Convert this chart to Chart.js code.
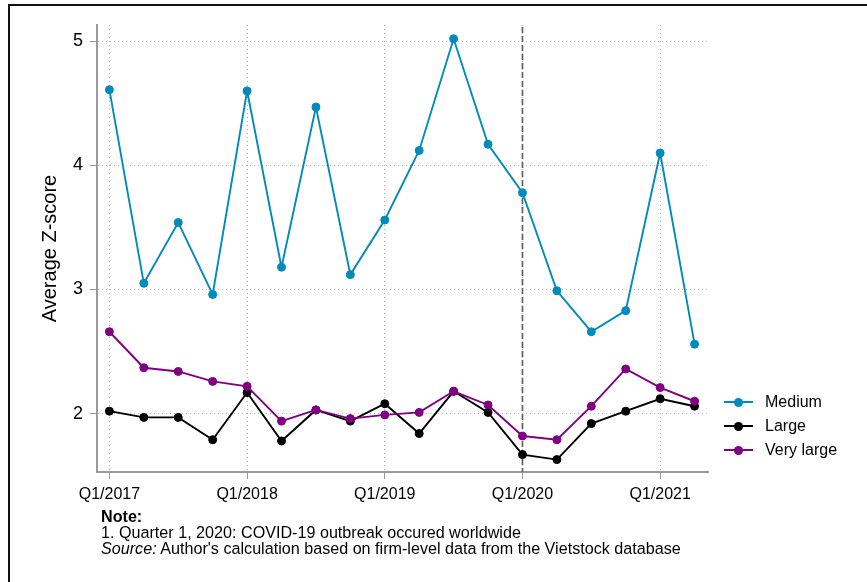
<!DOCTYPE html>
<html>
<head>
<meta charset="utf-8">
<script src="https://cdn.jsdelivr.net/npm/chart.js@4.4.1/dist/chart.umd.min.js"></script>
<style>
  html, body { margin: 0; padding: 0; background: #fff; }
  #wrap { position: relative; width: 867px; height: 582px; overflow: hidden;
          font-family: "Liberation Sans", Arial, sans-serif; color: #000; }
  #frame { position: absolute; left: 8px; top: 4px; width: 1000px; height: 1000px;
           border-left: 2px solid #111; border-top: 2px solid #111; }
  canvas { position: absolute; left: 0; top: 0; }
  #legend { position: absolute; left: 724px; top: 390px; }
  .item { position: relative; height: 24px; width: 140px; }
  .item .ln { position: absolute; left: 0; top: 11px; width: 29px; height: 2px; }
  .item .dot { position: absolute; left: 10px; top: 7.5px; width: 9px; height: 9px; border-radius: 50%; }
  .item .txt { position: absolute; left: 41px; top: 0; font-size: 16px; line-height: 24px; white-space: nowrap; }
  #notes { position: absolute; left: 101px; top: 509px; font-size: 16.15px; line-height: 15.8px; white-space: nowrap; }
</style>
</head>
<body>
<div id="wrap">
  <div id="frame"></div>
  <canvas id="chart" width="867" height="582"></canvas>
  <div id="legend"></div>
  <div id="notes">
    <div><b>Note:</b></div>
    <div>1. Quarter 1, 2020: COVID-19 outbreak occured worldwide</div>
    <div><i>Source:</i> Author's calculation based on firm-level data from the Vietstock database</div>
  </div>
</div>
<script>
// Quarters on the horizontal axis
const quarters = [
  'Q1/2017','Q2/2017','Q3/2017','Q4/2017',
  'Q1/2018','Q2/2018','Q3/2018','Q4/2018',
  'Q1/2019','Q2/2019','Q3/2019','Q4/2019',
  'Q1/2020','Q2/2020','Q3/2020','Q4/2020',
  'Q1/2021','Q2/2021'
];
// Labelled quarters and value-axis ticks
const tickQuarters = ['Q1/2017','Q1/2018','Q1/2019','Q1/2020','Q1/2021'];
const yTicks = [2, 3, 4, 5];
// Quarter marked by the dashed reference line
const eventQuarter = 'Q1/2020';

// Average Z-score by firm size group
const medium    = [4.61,3.05,3.54,2.96,4.60,3.18,4.47,3.12,3.56,4.12,5.02,4.17,3.78,2.99,2.66,2.83,4.10,2.56];
const large     = [2.02,1.97,1.97,1.79,2.17,1.78,2.03,1.94,2.08,1.84,2.18,2.01,1.67,1.63,1.92,2.02,2.12,2.06];
const veryLarge = [2.66,2.37,2.34,2.26,2.22,1.94,2.03,1.96,1.99,2.01,2.18,2.07,1.82,1.79,2.06,2.36,2.21,2.10];

const FONT = '"Liberation Sans", Arial, sans-serif';
const toPoints = arr => arr.map((v, i) => ({ x: i, y: v }));

function series(label, values, color, order) {
  return {
    label, data: toPoints(values), order,
    borderColor: color, backgroundColor: color,
    borderWidth: 1.9, pointRadius: 4, pointBorderWidth: 1,
    pointBackgroundColor: color, pointBorderColor: color,
    tension: 0, fill: false
  };
}

const datasets = [
  series('Medium', medium, '#008bbc', 2),
  series('Large', large, '#000000', 1),
  series('Very large', veryLarge, '#800080', 0)
];

// Dashed vertical marker at the event quarter
const eventLine = {
  id: 'eventLine',
  beforeDatasetsDraw(chart) {
    const { ctx, chartArea, scales } = chart;
    const x = scales.x.getPixelForValue(quarters.indexOf(eventQuarter));
    ctx.save();
    ctx.strokeStyle = '#626262';
    ctx.lineWidth = 1.7;
    ctx.setLineDash([6, 3]);
    ctx.beginPath();
    ctx.moveTo(x, chartArea.top + 2);
    ctx.lineTo(x, chartArea.bottom);
    ctx.stroke();
    ctx.restore();
  }
};

const gridOpts = {
  color: '#b8b8b8', lineWidth: 1,
  tickColor: '#9a9a9a', tickLength: 7, tickWidth: 1, tickBorderDash: []
};
const borderOpts = { color: '#9a9a9a', width: 2, dash: [1, 3] };

new Chart(document.getElementById('chart').getContext('2d'), {
  type: 'line',
  data: { datasets },
  options: {
    responsive: false,
    animation: false,
    devicePixelRatio: 1,
    layout: { padding: { left: 0, top: 25, right: 159, bottom: 0 } },
    plugins: { legend: { display: false }, tooltip: { enabled: false } },
    scales: {
      x: {
        type: 'linear', min: -0.36, max: 17.39,
        afterBuildTicks: s => { s.ticks = tickQuarters.map(q => ({ value: quarters.indexOf(q) })); },
        afterFit: s => { s.height = 110; },
        ticks: {
          callback: v => quarters[v],
          font: { family: FONT, size: 16 }, color: '#000',
          padding: 6, maxRotation: 0, autoSkip: false
        },
        grid: gridOpts,
        border: borderOpts
      },
      y: {
        min: 1.53, max: 5.131,
        afterBuildTicks: s => { s.ticks = yTicks.map(v => ({ value: v })); },
        afterFit: s => { s.width = 97; },
        ticks: { font: { family: FONT, size: 18 }, color: '#000', padding: 7 },
        grid: gridOpts,
        border: borderOpts,
        title: {
          display: true, text: 'Average Z-score', color: '#000',
          font: { family: FONT, size: 20 }, padding: { top: 38, bottom: 0 }
        }
      }
    }
  },
  plugins: [eventLine]
});

// Legend built from the datasets, in series order
const legend = document.getElementById('legend');
datasets.forEach(ds => {
  const item = document.createElement('div');
  item.className = 'item';
  item.innerHTML = '<div class="ln"></div><div class="dot"></div><div class="txt"></div>';
  item.querySelector('.ln').style.background = ds.borderColor;
  item.querySelector('.dot').style.background = ds.borderColor;
  item.querySelector('.txt').textContent = ds.label;
  legend.appendChild(item);
});
</script>
</body>
</html>
